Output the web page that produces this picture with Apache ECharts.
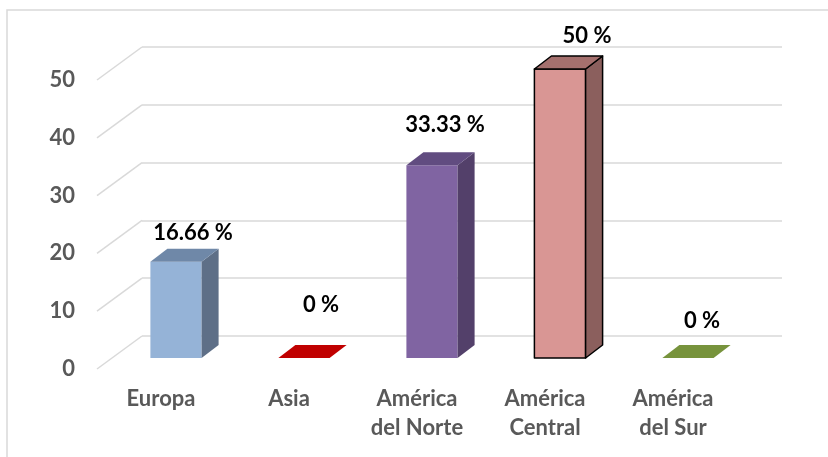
<!DOCTYPE html>
<html>
<head>
<meta charset="utf-8">
<script src="https://cdn.jsdelivr.net/npm/echarts@6/dist/echarts.min.js"></script>
<style>
html,body{margin:0;padding:0;background:#fff;}
#chart{width:828px;height:457px;}
</style>
</head>
<body>
<div id="chart"></div>
<script>
// ---- data ----
const categories = ['Europa', 'Asia', 'América\ndel Norte', 'América\nCentral', 'América\ndel Sur'];
const values = [16.66, 0, 33.33, 50, 0];
const yTicks = [0, 10, 20, 30, 40, 50];

// ---- styles ----
const frontColors = ['#95B3D7', '#C00000', '#8064A2', '#D99694', '#77933C'];
const topColors   = ['#6F88A8', '#C00000', '#614C80', '#A5706E', '#77933C'];
const sideColors  = ['#5E6F87', '#9A0000', '#53406A', '#8B5F5D', '#5F7630'];
const strokeColors = [null, null, null, '#000000', null];
const labelDx = [0, 0, -4, 10, -3];
const labelDy = [-16, -40, -27, -20, -24];

const FONT = 'Lato, "Open Sans", sans-serif';
const chart = echarts.init(document.getElementById('chart'), null, {renderer: 'canvas'});

function barItem(params, api) {
  const i = api.value(0), v = api.value(1);
  const base = api.coord([i, 0]);
  const topP = api.coord([i, v]);
  const band = api.size([1, 0])[0];
  const w = band * 0.4;
  const ox = 15, oy = -11, dx = 17, dy = -13;
  const xl = base[0] + ox - w / 2, xr = xl + w;
  const yb = base[1] + oy, yt = topP[1] + oy;
  const sc = strokeColors[i];
  const st = (fill) => sc ? {fill: fill, stroke: sc, lineWidth: 1.5, lineJoin: 'round'} : {fill: fill};
  const children = [];
  if (v > 0) {
    children.push({type: 'polygon', shape: {points: [[xl, yb], [xr, yb], [xr, yt], [xl, yt]]}, style: st(frontColors[i])});
    children.push({type: 'polygon', shape: {points: [[xr, yb], [xr + dx, yb + dy], [xr + dx, yt + dy], [xr, yt]]}, style: st(sideColors[i])});
  }
  children.push({type: 'polygon', shape: {points: [[xl, yt], [xr, yt], [xr + dx, yt + dy], [xl + dx, yt + dy]]}, style: st(topColors[i])});
  children.push({
    type: 'text',
    style: {
      x: (xl + xr) / 2 + dx + labelDx[i],
      y: yt + dy + labelDy[i],
      text: v + ' %',
      fill: '#000000',
      font: 'bold 22px ' + FONT,
      align: 'center',
      verticalAlign: 'middle'
    }
  });
  return {type: 'group', children: children};
}

function diagItem(params, api) {
  const p = api.coord([0, api.value(1)]);
  return {
    type: 'line',
    shape: {x1: p[0], y1: p[1], x2: p[0] - 45, y2: p[1] + 33},
    style: {stroke: '#D9D9D9', lineWidth: 1.5}
  };
}

const option = {
  animation: false,
  backgroundColor: '#ffffff',
  graphic: [{
    type: 'rect',
    shape: {x: 7, y: 10, width: 900, height: 600},
    style: {fill: 'none', stroke: '#D9D9D9', lineWidth: 1.5},
    silent: true,
    z: -10
  }],
  grid: [
    {left: 142, right: 46, top: 47, bottom: 121},
    {left: 97, right: 91, top: 80, bottom: 88}
  ],
  xAxis: [
    {gridIndex: 0, type: 'value', min: 0, max: 1, show: false},
    {
      gridIndex: 1, type: 'category', data: categories,
      axisLine: {show: false}, axisTick: {show: false}, splitLine: {show: false},
      axisLabel: {
        interval: 0, margin: 15, color: '#595959',
        fontFamily: FONT, fontWeight: 'bold', fontSize: 22, lineHeight: 29
      }
    }
  ],
  yAxis: [
    {
      gridIndex: 0, type: 'value', min: 0, max: 50, interval: 10,
      axisLine: {show: false}, axisTick: {show: false}, axisLabel: {show: false},
      splitLine: {show: true, lineStyle: {color: '#D9D9D9', width: 1.5}}
    },
    {
      gridIndex: 1, type: 'value', min: 0, max: 50, interval: 10,
      axisLine: {show: false}, axisTick: {show: false}, splitLine: {show: false},
      axisLabel: {
        margin: 22, color: '#595959',
        fontFamily: FONT, fontWeight: 'bold', fontSize: 22
      }
    }
  ],
  series: [
    {
      type: 'custom', xAxisIndex: 0, yAxisIndex: 0, clip: false, silent: true,
      renderItem: diagItem,
      data: yTicks.map(t => [0, t]),
      z: 1
    },
    {
      type: 'custom', xAxisIndex: 1, yAxisIndex: 1, clip: false,
      renderItem: barItem,
      encode: {x: 0, y: 1},
      data: values.map((v, i) => [i, v]),
      z: 5
    }
  ]
};
chart.setOption(option);
</script>
</body>
</html>
